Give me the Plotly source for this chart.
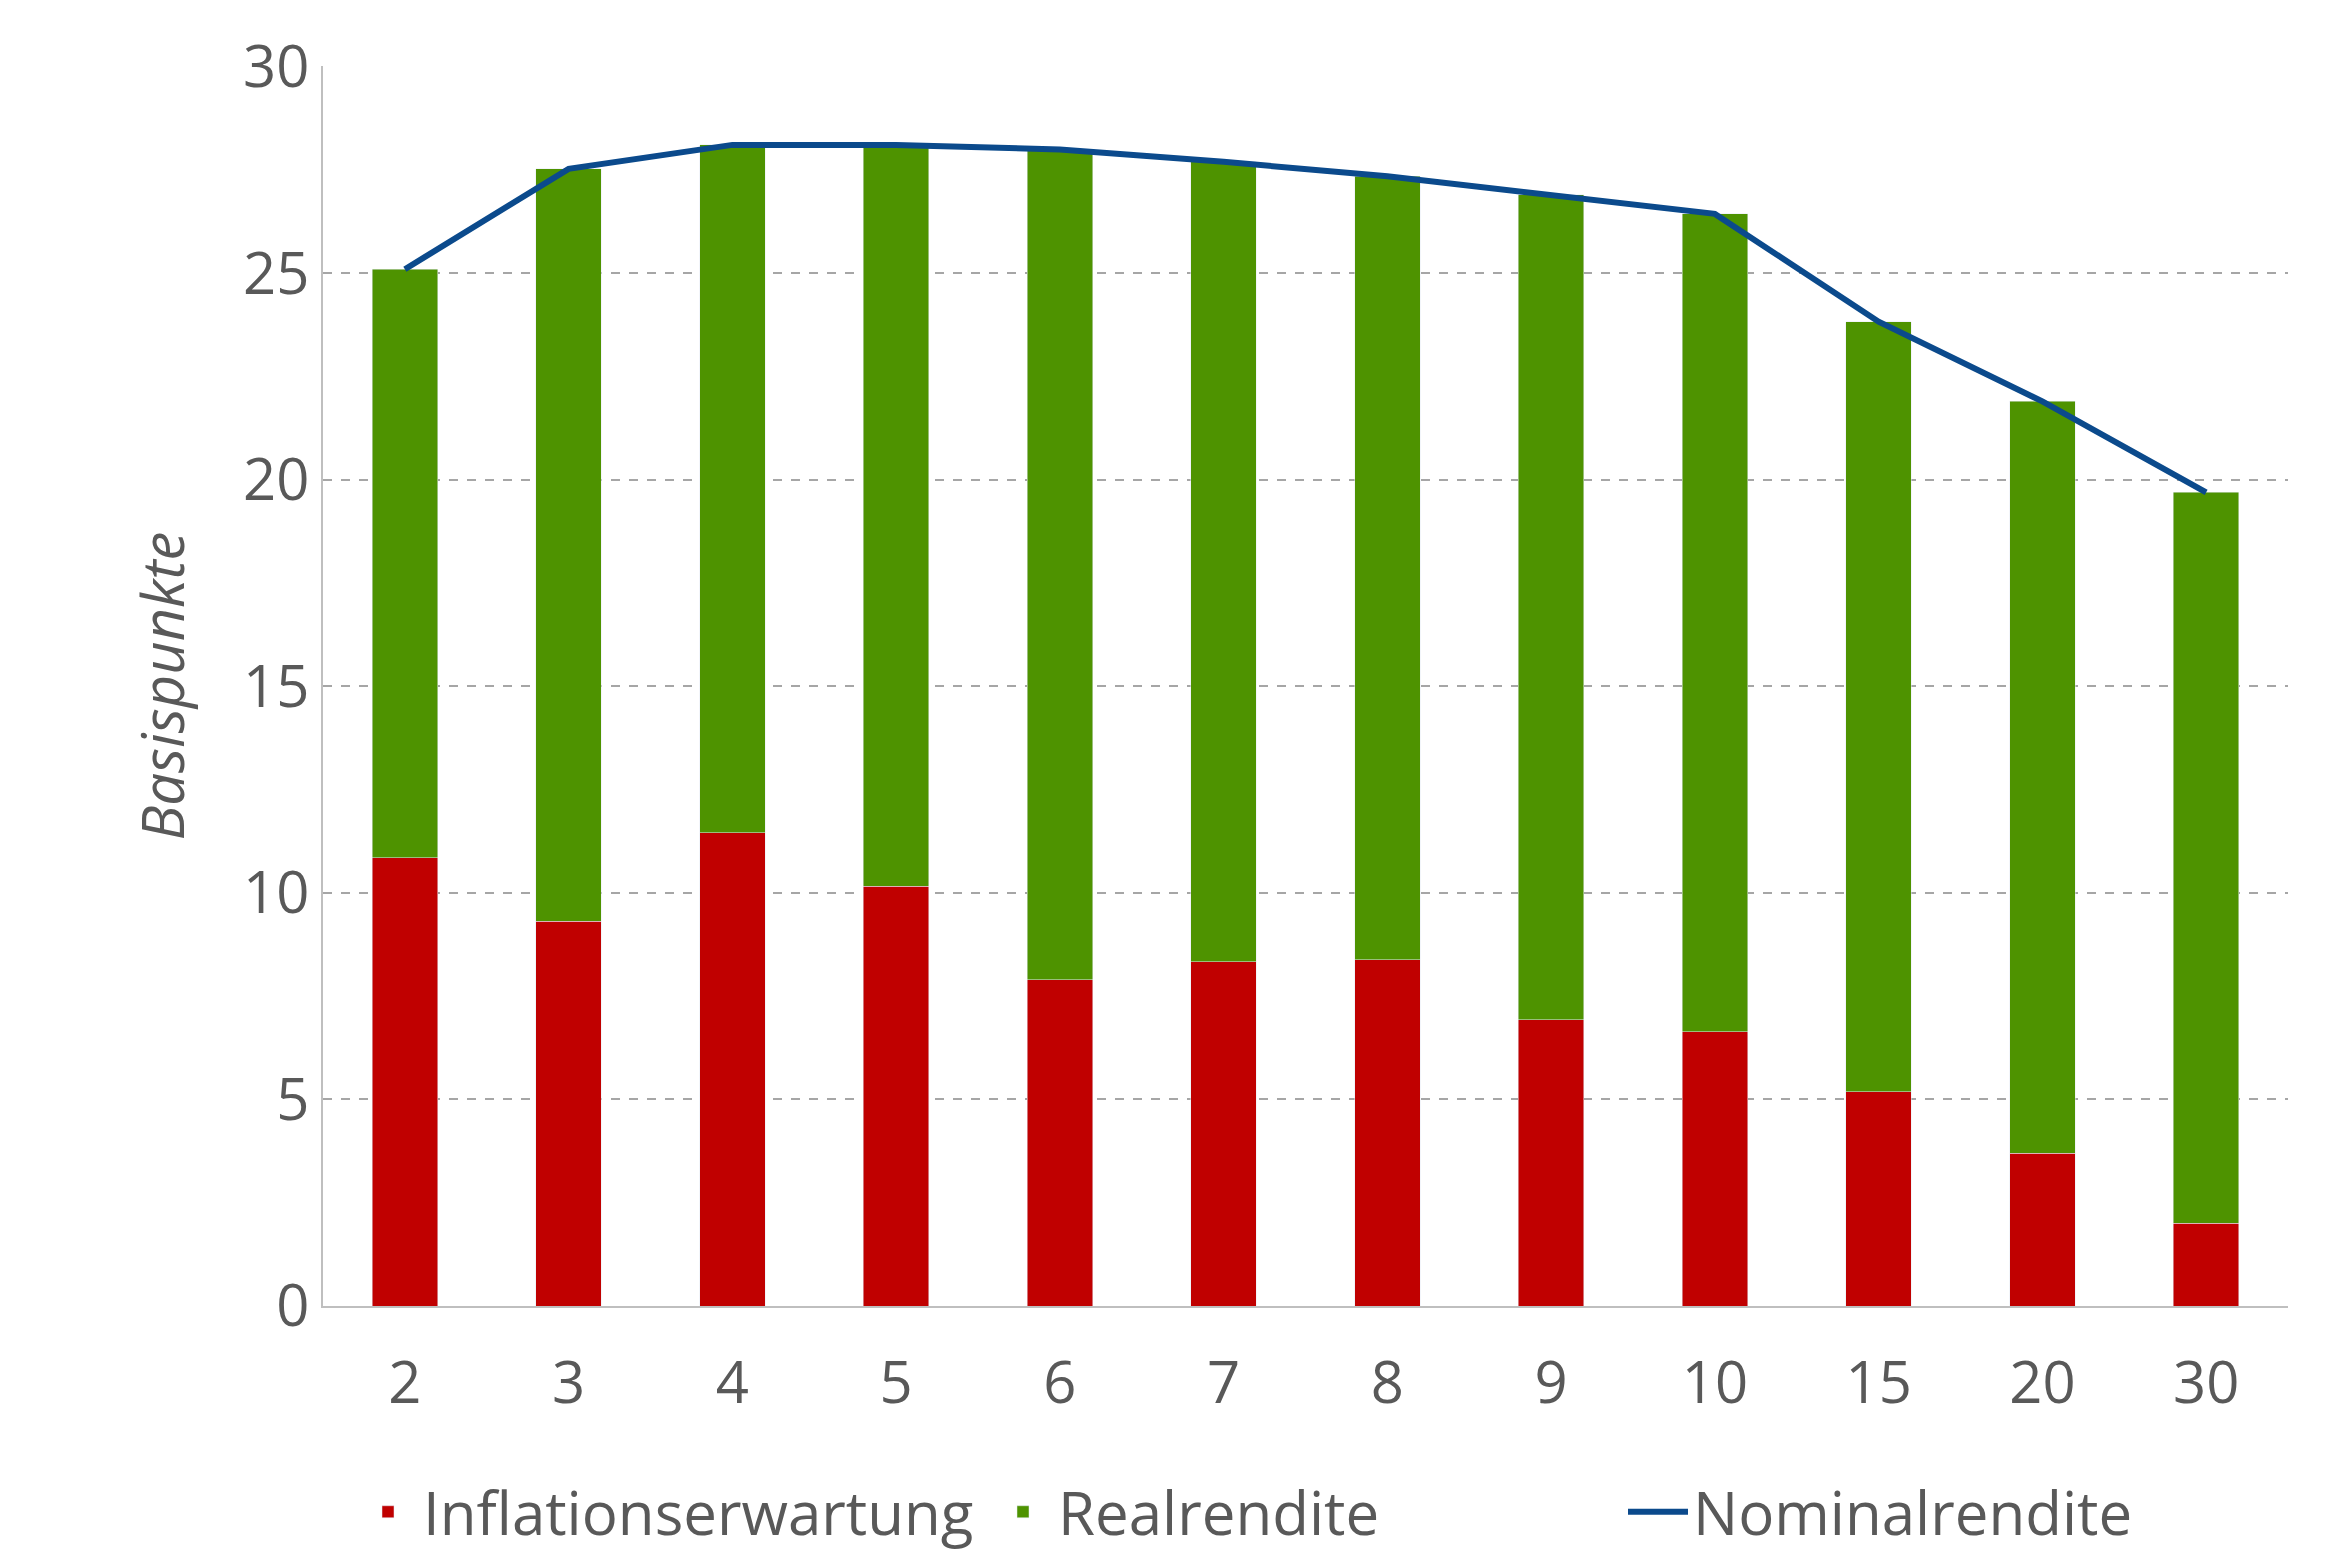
import plotly.graph_objects as go

# Laufzeiten (Jahre) und Werte in Basispunkten
laufzeiten = ["2", "3", "4", "5", "6", "7", "8", "9", "10", "15", "20", "30"]
inflation = [10.85, 9.32, 11.46, 10.16, 7.9, 8.34, 8.38, 6.93, 6.64, 5.19, 3.7, 2.0]
nominal = [25.1, 27.53, 28.11, 28.11, 28.0, 27.7, 27.35, 26.9, 26.44, 23.83, 21.9, 19.7]
real = [round(n - i, 2) for n, i in zip(nominal, inflation)]

grey = "#595959"

fig = go.Figure()
fig.add_bar(x=laufzeiten, y=inflation, name="Inflationserwartung",
            marker_color="#C00000")
fig.add_bar(x=laufzeiten, y=real, name="Realrendite",
            marker_color="#4E9300")
fig.add_scatter(x=laufzeiten, y=nominal, name="Nominalrendite", mode="lines",
                line=dict(color="#0B4A8C", width=6))

fig.update_layout(
    width=2339, height=1560,
    barmode="stack", bargap=0.6,
    plot_bgcolor="white", paper_bgcolor="white",
    font=dict(family="Open Sans", color=grey, size=58),
    margin=dict(l=315, r=59, t=58, b=261),
    legend=dict(orientation="h", x=0.5, xanchor="center", y=-0.165,
                yanchor="middle", font=dict(size=60), traceorder="normal",
                entrywidth=560, itemwidth=60),
    showlegend=True,
)
fig.update_xaxes(showline=True, linecolor="#BFBFBF", linewidth=2,
                 ticks="outside", ticklen=25, tickcolor="rgba(0,0,0,0)",
                 tickfont=dict(size=58))
fig.update_yaxes(range=[0, 30.02], tickvals=[0, 5, 10, 15, 20, 25, 30],
                 showgrid=True, gridcolor="#A6A6A6",
                 griddash="dash", gridwidth=2, showline=True,
                 linecolor="#BFBFBF", linewidth=2, zeroline=False,
                 tickfont=dict(size=58), ticksuffix="   ",
                 title=dict(text="<i>Basispunkte</i>", font=dict(size=58),
                            standoff=40))

fig.write_html("out.html")
